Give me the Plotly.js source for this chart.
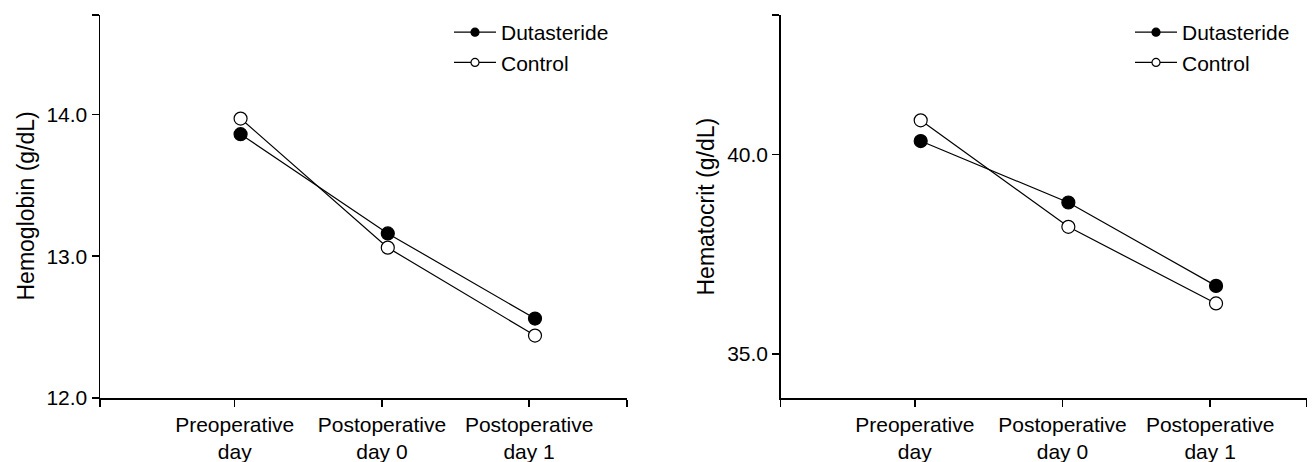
<!DOCTYPE html>
<html>
<head>
<meta charset="utf-8">
<script src="https://cdn.plot.ly/plotly-3.0.1.min.js"></script>
<style>html,body{margin:0;padding:0;background:#fff;}#chart{width:1315px;height:462px;}</style>
</head>
<body>
<div id="chart"></div>
<script>
// ---- data ----
var categories = ["Preoperative<br>day", "Postoperative<br>day 0", "Postoperative<br>day 1"];
var hbDutasteride = [13.86, 13.16, 12.56];
var hbControl     = [13.97, 13.06, 12.44];
var hctDutasteride = [40.34, 38.80, 36.71];
var hctControl     = [40.86, 38.19, 36.27];
var hbTickVals = [12, 13, 14];
var hbTickText = ["12.0", "13.0", "14.0"];
var hctTickVals = [35, 40];
var hctTickText = ["35.0", "40.0"];
var seriesNames = ["Dutasteride", "Control"];
var yTitles = ["Hemoglobin (g/dL)", "Hematocrit (g/dL)"];

// ---- build ----
var xpos = categories.map(function (c, i) { return i + 1; });
var FONT = "Liberation Sans, Arial, sans-serif";
var xr1 = [0.045, 3.625], xr2 = [0.052, 3.614];
var yr1 = [12, 14.7], yr2 = [33.9, 43.5];

function dataTrace(y, filled, xa, ya) {
  return {
    x: xpos, y: y, xaxis: xa, yaxis: ya, type: "scatter", mode: "lines+markers",
    showlegend: false, hoverinfo: "skip",
    line: {color: "#000", width: 1.2},
    marker: {size: 13, color: filled ? "#000" : "#fff", line: {color: "#000", width: 1.2}}
  };
}
function legendTrace(name, filled, xa, ya, leg) {
  return {
    x: [null], y: [null], xaxis: xa, yaxis: ya, type: "scatter", mode: "lines+markers",
    name: name, legend: leg, showlegend: true,
    line: {color: "#000", width: 1.2},
    marker: {size: 8, color: filled ? "#000" : "#fff", line: {color: "#000", width: 1.2}}
  };
}

var traces = [
  dataTrace(hbControl, false, "x", "y"),
  dataTrace(hbDutasteride, true, "x", "y"),
  dataTrace(hctControl, false, "x2", "y2"),
  dataTrace(hctDutasteride, true, "x2", "y2"),
  legendTrace(seriesNames[0], true, "x", "y", "legend"),
  legendTrace(seriesNames[1], false, "x", "y", "legend"),
  legendTrace(seriesNames[0], true, "x2", "y2", "legend2"),
  legendTrace(seriesNames[1], false, "x2", "y2", "legend2")
];

function xaxisDef(dom, range, anchor) {
  var tv = [range[0]].concat(xpos.map(function (p) { return p - 0.04; })).concat([range[1]]);
  var tt = [""].concat(categories).concat([""]);
  return {
    domain: dom, range: range, anchor: anchor, showgrid: false, zeroline: false,
    showline: true, linecolor: "#000", linewidth: 1.5,
    ticks: "outside", ticklen: 7, tickwidth: 1.5, tickcolor: "#000",
    tickmode: "array", tickvals: tv, ticktext: tt,
    tickfont: {family: FONT, size: 21, color: "#000"}, automargin: false, fixedrange: true
  };
}
function yaxisDef(range, vals, text, anchor) {
  return {
    domain: [64 / 462, 447 / 462], range: range, anchor: anchor, showgrid: false, zeroline: false,
    showline: true, linecolor: "#000", linewidth: 1.5,
    ticks: "outside", ticklen: 7, tickwidth: 1.5, tickcolor: "#000",
    tickmode: "array", tickvals: vals.concat([range[1]]), ticktext: text.concat([""]),
    tickfont: {family: FONT, size: 21, color: "#000"},
    automargin: false, fixedrange: true
  };
}
function yTitle(text, xpx) {
  return {
    text: text, xref: "paper", yref: "paper", x: xpx / 1315, y: 1 - 206.5 / 462,
    xanchor: "center", yanchor: "middle", textangle: -90, showarrow: false,
    font: {family: FONT, size: 23, color: "#000"}
  };
}
function legendDef(xpx) {
  return {x: xpx / 1315, y: 1 - 12 / 462, xanchor: "left", yanchor: "top",
          bgcolor: "rgba(0,0,0,0)", borderwidth: 0, tracegroupgap: 0, itemwidth: 42,
          font: {family: FONT, size: 21, color: "#000"}};
}

var layout = {
  width: 1315, height: 462,
  margin: {l: 0, r: 0, t: 0, b: 0},
  paper_bgcolor: "#fff", plot_bgcolor: "#fff",
  font: {family: FONT, color: "#000"},
  xaxis: xaxisDef([100 / 1315, 627 / 1315], xr1, "y"),
  yaxis: yaxisDef(yr1, hbTickVals, hbTickText, "x"),
  xaxis2: xaxisDef([780.7 / 1315, 1306.7 / 1315], xr2, "y2"),
  yaxis2: yaxisDef(yr2, hctTickVals, hctTickText, "x2"),
  annotations: [yTitle(yTitles[0], 25), yTitle(yTitles[1], 705)],
  legend: legendDef(449),
  legend2: legendDef(1130),
  showlegend: true
};

Plotly.newPlot("chart", traces, layout, {displayModeBar: false, staticPlot: true});
</script>
</body>
</html>
